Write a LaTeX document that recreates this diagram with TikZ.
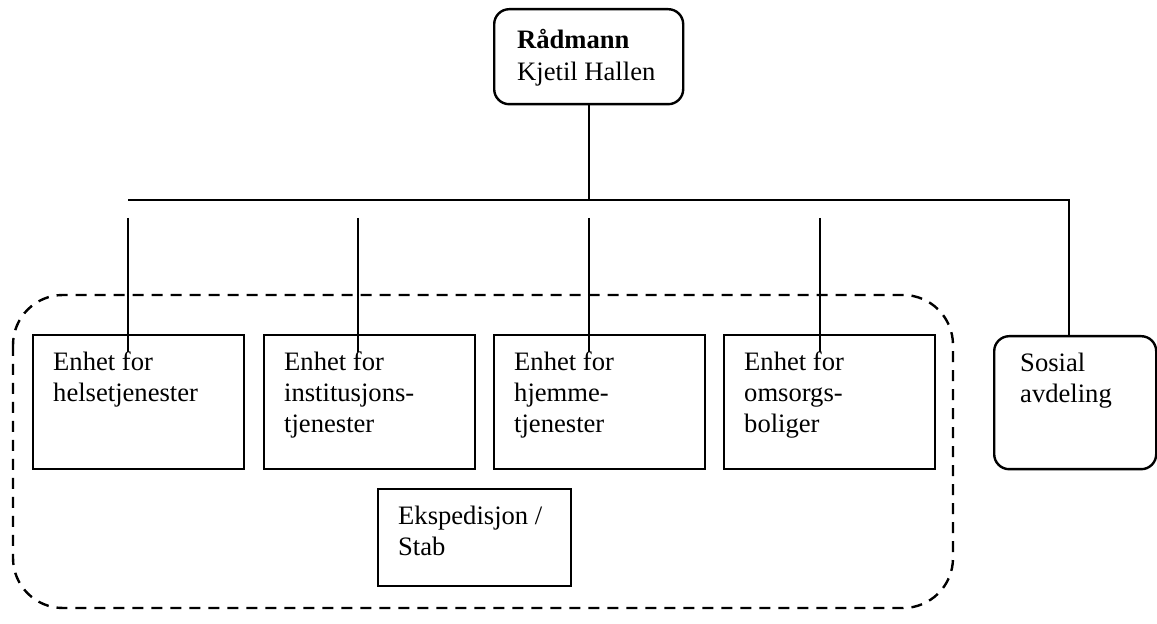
\documentclass[tikz,border=0pt]{standalone}
\usepackage{fontspec}
\setmainfont{Liberation Serif}
\usetikzlibrary{positioning}

\begin{document}
\begin{tikzpicture}[x = 0.5pt, y = -0.5pt,
		orgline/.style = {black, line width = 1.2pt},
		unit/.style = {draw, orgline, rectangle, anchor = north west, align = left, inner ysep = 0pt, inner xsep = 10pt, text width = 85.5pt, text height = 17.5pt, text depth = 49.5pt, font = \fontsize{13.3}{15.5}\selectfont, execute at begin node = {\spaceskip = 0pt\xspaceskip = 0pt}},
		chief/.style = {unit, rounded corners = 7.5pt}]
	\useasboundingbox (0, 0) rectangle (1157, 624);
	\node [chief, inner xsep = 11.5pt, text width = 71.5pt, text height = 19.5pt, text depth = 28pt, font = \fontsize{13.3}{16}\selectfont] (radmann) at (493, 8) {\textbf{Rådmann}\\Kjetil Hallen};
	\node [unit] (helse) at (32, 334) {Enhet for\\helsetjenester};
	\node [unit] (institusjon) at (263, 334) {Enhet for\\institusjons-\\tjenester};
	\node [unit] (hjemme) at (493, 334) {Enhet for\\hjemme-\\tjenester};
	\node [unit] (omsorg) at (723, 334) {Enhet for\\omsorgs-\\boliger};
	\node [unit, text width = 76.5pt, text depth = 31pt] (ekspedisjon) at (377, 488) {Ekspedisjon /\\Stab};
	\node [chief, inner xsep = 13pt, text width = 55pt, text depth = 49pt] (sosial) at (993, 335) {Sosial\\avdeling};
	\draw [orgline, dash pattern = on 5.5pt off 4pt, rounded corners = 25pt] (13, 295) rectangle (953, 608);
	\coordinate (busL) at (128, 200);
	\coordinate (busR) at (1069, 200);
	\draw [orgline] (radmann.south) -- (radmann.south |- busL);
	\draw [orgline] (busL) -- (busR) -- (busR |- sosial.north);
	\foreach \u/\x in {helse/128, institusjon/358, hjemme/589, omsorg/820} {
		\coordinate (drop\u) at (\x, 218);
		\draw [orgline] (drop\u) -- ([yshift = -9pt] drop\u |- \u.north);
	}
\end{tikzpicture}
\end{document}
